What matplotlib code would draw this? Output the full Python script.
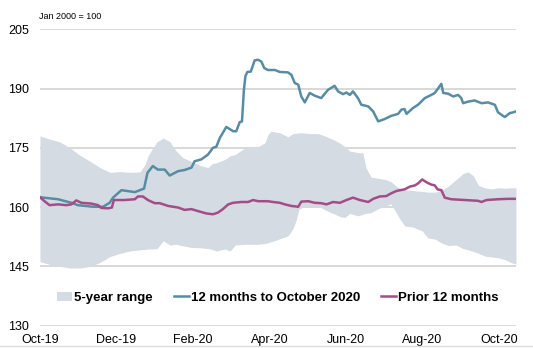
import matplotlib
matplotlib.use("Agg")
import matplotlib.pyplot as plt
from matplotlib.lines import Line2D
from matplotlib.patches import Patch

plt.rcParams['font.family'] = ['Liberation Sans', 'DejaVu Sans']

# x positions are months after 1 Oct 2019
band_months = [0.00, 0.26, 0.52, 0.78, 1.05, 1.31, 1.57, 1.83, 2.09, 2.35, 2.61, 2.75,
               2.82, 2.95, 3.06, 3.22, 3.40, 3.56, 3.74, 3.95, 4.21, 4.39, 4.50, 4.60,
               4.84, 4.97, 5.10, 5.36, 5.70, 5.88, 5.96, 6.04, 6.27, 6.48, 6.61, 6.69,
               6.77, 6.88, 7.06, 7.27, 7.45, 7.71, 7.87, 7.97, 8.10, 8.31, 8.44, 8.52,
               8.65, 8.84, 9.02, 9.18, 9.31, 9.41, 9.54, 9.73, 9.99, 10.14, 10.33, 10.48,
               10.67, 10.88, 11.06, 11.19, 11.32, 11.46, 11.63, 11.79, 11.97, 12.16, 12.31, 12.44]
band_high = [178.0, 177.2, 176.5, 175.0, 173.1, 171.6, 170.0, 168.8, 169.0, 168.8, 168.9, 170.8,
             172.9, 175.0, 176.5, 177.5, 176.5, 174.2, 172.5, 171.6, 170.5, 170.0, 171.0, 171.2,
             172.1, 173.0, 173.3, 175.0, 175.3, 176.3, 178.4, 179.2, 178.8, 177.8, 178.6, 178.7,
             178.8, 178.8, 178.6, 178.6, 178.0, 176.9, 176.0, 175.3, 174.2, 173.8, 173.7, 170.0,
             167.6, 167.3, 167.0, 166.4, 165.3, 164.8, 164.4, 164.2, 164.0, 163.8, 163.8, 164.2,
             165.3, 167.0, 168.5, 168.9, 168.0, 165.5, 164.9, 164.6, 164.9, 164.8, 164.9, 164.9]
band_low = [146.2, 145.5, 145.0, 144.6, 144.6, 145.0, 146.0, 147.5, 148.3, 148.9, 149.2, 149.3,
            149.4, 149.4, 149.5, 151.5, 150.4, 150.6, 150.2, 149.8, 149.7, 149.5, 149.3, 148.9,
            149.4, 148.9, 150.4, 150.6, 150.6, 150.8, 151.0, 151.2, 152.0, 152.7, 154.5, 156.5,
            159.5, 160.0, 160.3, 160.3, 159.3, 158.2, 157.5, 157.4, 158.4, 157.8, 158.2, 158.4,
            158.6, 159.6, 160.3, 160.8, 158.6, 156.9, 155.2, 155.0, 154.0, 152.2, 151.9, 151.0,
            150.3, 150.4, 149.5, 149.2, 148.8, 148.3, 147.6, 147.4, 147.2, 146.7, 146.0, 145.6]

recent_months = [0.00, 0.47, 0.82, 0.99, 1.39, 1.65, 1.82, 1.91, 2.13, 2.48, 2.72, 2.81,
                 2.95, 3.08, 3.26, 3.39, 3.61, 3.78, 3.96, 4.04, 4.22, 4.39, 4.52, 4.61,
                 4.70, 4.87, 5.05, 5.13, 5.22, 5.28, 5.33, 5.37, 5.42, 5.51, 5.61, 5.70,
                 5.79, 5.86, 5.96, 6.14, 6.27, 6.48, 6.57, 6.66, 6.75, 6.83, 6.92, 7.05,
                 7.18, 7.35, 7.53, 7.70, 7.79, 7.92, 8.01, 8.10, 8.18, 8.31, 8.40, 8.58,
                 8.71, 8.84, 9.01, 9.18, 9.36, 9.45, 9.53, 9.58, 9.75, 9.88, 10.06, 10.23,
                 10.32, 10.41, 10.49, 10.54, 10.67, 10.80, 10.93, 11.01, 11.06, 11.19, 11.36, 11.54,
                 11.71, 11.89, 11.97, 12.10, 12.15, 12.28, 12.37, 12.43]
recent_vals = [162.5, 162.0, 161.1, 160.5, 160.1, 160.1, 161.1, 162.4, 164.3, 163.8, 164.7, 168.7,
               170.4, 169.5, 169.5, 168.0, 169.1, 169.4, 170.0, 171.6, 172.1, 173.3, 175.0, 175.3,
               177.5, 180.3, 179.2, 179.2, 181.5, 181.7, 189.7, 193.2, 194.2, 194.3, 197.1, 197.3,
               196.8, 195.2, 194.7, 194.7, 194.2, 194.1, 193.5, 191.4, 191.0, 188.0, 186.5, 188.9,
               188.2, 187.6, 189.7, 190.7, 189.3, 188.6, 189.0, 188.4, 189.3, 187.6, 185.9, 185.5,
               184.2, 181.7, 182.3, 183.1, 183.6, 184.7, 184.8, 183.6, 185.1, 185.9, 187.6, 188.4,
               188.9, 190.1, 191.2, 188.9, 188.7, 188.0, 188.4, 187.6, 186.3, 186.7, 187.0, 186.3,
               186.5, 185.9, 184.0, 183.1, 182.8, 183.8, 184.0, 184.2]

prior_months = [0.00, 0.12, 0.25, 0.47, 0.69, 0.82, 0.95, 1.08, 1.34, 1.52, 1.60, 1.78,
                1.88, 1.93, 2.21, 2.48, 2.56, 2.69, 2.82, 3.00, 3.13, 3.35, 3.61, 3.78,
                3.96, 4.13, 4.35, 4.52, 4.65, 4.78, 4.92, 5.05, 5.26, 5.44, 5.57, 5.70,
                5.96, 6.09, 6.27, 6.40, 6.57, 6.75, 6.83, 7.01, 7.18, 7.35, 7.49, 7.66,
                7.84, 8.01, 8.18, 8.36, 8.58, 8.71, 8.88, 9.05, 9.18, 9.32, 9.53, 9.67,
                9.80, 9.88, 9.99, 10.10, 10.23, 10.32, 10.39, 10.49, 10.58, 10.75, 11.10, 11.45,
                11.54, 11.67, 11.97, 12.24, 12.43]
prior_vals = [162.5, 161.5, 160.5, 160.7, 160.5, 160.7, 161.7, 161.1, 160.9, 160.5, 159.8, 159.7,
              159.9, 161.8, 161.8, 162.0, 162.7, 162.7, 161.8, 161.0, 161.0, 160.3, 159.9, 159.3,
              159.5, 159.0, 158.4, 158.2, 158.6, 159.5, 160.7, 161.1, 161.3, 161.3, 161.8, 161.5,
              161.5, 161.3, 161.1, 160.7, 160.3, 160.1, 161.4, 161.5, 161.1, 161.0, 160.7, 161.3,
              161.1, 161.8, 162.4, 161.8, 161.3, 162.1, 162.7, 162.8, 163.5, 164.1, 164.5, 165.2,
              165.5, 166.0, 167.0, 166.3, 165.7, 165.5, 164.5, 164.3, 162.4, 162.0, 161.8, 161.6,
              161.3, 161.8, 162.0, 162.1, 162.1]

tick_months = [0, 2, 4, 6, 8, 10, 12]
tick_labels = ["Oct-19", "Dec-19", "Feb-20", "Apr-20", "Jun-20", "Aug-20", "Oct-20"]
y_ticks = [130, 145, 160, 175, 190, 205]

band_color = "#D5DBE3"
recent_color = "#578CA3"
prior_color = "#A44C88"

fig = plt.figure(figsize=(5.33, 3.48), dpi=100)
ax = fig.add_axes([0.075, 0.0641, 0.893, 0.8517])

ax.fill_between(band_months, band_low, band_high, color=band_color, lw=0, zorder=1)
ax.plot(recent_months, recent_vals, color=recent_color, lw=1.8, zorder=3)
ax.plot(prior_months, prior_vals, color=prior_color, lw=1.8, zorder=3)

for y in y_ticks:
    ax.axhline(y, color="#D6D6D6", lw=1.3, zorder=0.5)

ax.set_xlim(0, 12.44)
ax.set_ylim(130, 205)
ax.set_yticks(y_ticks)
ax.set_xticks(tick_months)
ax.set_xticklabels(tick_labels)
ax.tick_params(axis="y", length=0, pad=8, labelsize=9)
ax.tick_params(axis="x", length=0, pad=6, labelsize=9)
for s in ax.spines.values():
    s.set_visible(False)

fig.text(0.073, 0.954, "Jan 2000 = 100", fontsize=6.5, va="center", ha="left")

handles = [Patch(facecolor=band_color, edgecolor="none"),
           Line2D([], [], color=recent_color, lw=1.8),
           Line2D([], [], color=prior_color, lw=1.8)]
labels = ["5-year range", "12 months to October 2020", "Prior 12 months"]
fig.legend(handles, labels, loc="center", bbox_to_anchor=(0.521, 0.1437), ncol=3,
           frameon=False, handlelength=1.15, handletextpad=0.15, columnspacing=1.6,
           prop={"weight": "bold", "size": 9.5})

fig.add_artist(Line2D([0, 1], [0.007, 0.007], color="#DDDDDD", lw=1))

fig.savefig("out.png", dpi=100)
